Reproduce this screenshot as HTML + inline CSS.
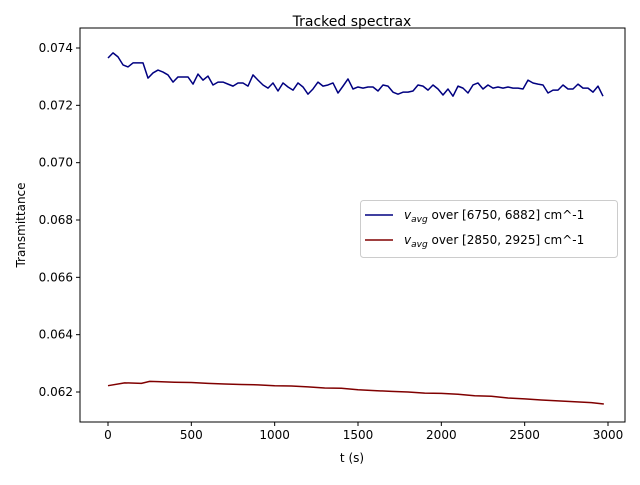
<!DOCTYPE html>
<html><head><meta charset="utf-8"><style>
body{margin:0;background:#fff;font-family:"Liberation Sans","DejaVu Sans",sans-serif}
svg text{font-family:"DejaVu Sans","Liberation Sans",sans-serif;font-size:12px;fill:#000}
</style></head><body>
<svg id="c" width="640" height="480"></svg>
<script>
const blueT=[0,30,60,90,120,150,180,210,240,270,300,330,360,390,420,450,480,510,540,570,600,630,660,690,720,750,780,810,840,870,900,930,960,990,1020,1050,1080,1110,1140,1170,1200,1230,1260,1290,1320,1350,1380,1410,1440,1470,1500,1530,1560,1590,1620,1650,1680,1710,1740,1770,1800,1830,1860,1890,1920,1950,1980,2010,2040,2070,2100,2130,2160,2190,2220,2250,2280,2310,2340,2370,2400,2430,2460,2490,2520,2550,2580,2610,2640,2670,2700,2730,2760,2790,2820,2850,2880,2910,2940,2970];
const blueV=[0.07365,0.07383,0.07369,0.07341,0.07334,0.07348,0.07348,0.07348,0.07295,0.07313,0.07323,0.07316,0.07306,0.07281,0.07299,0.07299,0.07299,0.07274,0.07309,0.07288,0.07302,0.07271,0.07281,0.07281,0.07274,0.07267,0.07278,0.07278,0.07267,0.07306,0.07288,0.07271,0.07260,0.07278,0.07250,0.07278,0.07264,0.07253,0.07278,0.07264,0.07239,0.07257,0.07281,0.07267,0.07271,0.07278,0.07243,0.07267,0.07292,0.07257,0.07264,0.07260,0.07264,0.07264,0.07250,0.07271,0.07267,0.07246,0.07239,0.07246,0.07246,0.07250,0.07271,0.07267,0.07253,0.07271,0.07257,0.07236,0.07257,0.07232,0.07267,0.07260,0.07243,0.07271,0.07278,0.07257,0.07271,0.07260,0.07264,0.07260,0.07264,0.07260,0.07260,0.07257,0.07288,0.07278,0.07274,0.07271,0.07243,0.07253,0.07253,0.07271,0.07257,0.07257,0.07274,0.07260,0.07260,0.07246,0.07267,0.07232];
const redT=[0,100,200,250,300,400,500,600,700,800,900,1000,1100,1200,1300,1400,1500,1600,1700,1800,1900,2000,2100,2200,2300,2400,2500,2600,2700,2800,2900,2975];
const redV=[0.06222,0.06232,0.06230,0.06237,0.06236,0.06234,0.06233,0.06230,0.06228,0.06226,0.06225,0.06222,0.06221,0.06218,0.06214,0.06213,0.06208,0.06205,0.06202,0.06200,0.06196,0.06195,0.06192,0.06187,0.06185,0.06179,0.06176,0.06172,0.06169,0.06166,0.06163,0.06158];
const xTicks=[0,500,1000,1500,2000,2500,3000];
const yTicks=[0.062,0.064,0.066,0.068,0.070,0.072,0.074];
const yLabels=["0.062","0.064","0.066","0.068","0.070","0.072","0.074"];
const L=80,R=625,T=28,B=422;
const xs=t=>108+t*(500/3000);
const ys=v=>392-(v-0.062)*(344/0.012);
const svg=document.getElementById('c');const NS='http://www.w3.org/2000/svg';
function mk(tag,attrs,txt){const e=document.createElementNS(NS,tag);for(const k in attrs)e.setAttribute(k,attrs[k]);if(txt!=null)e.textContent=txt;svg.appendChild(e);return e;}
let e=mk('rect',{x:L,y:T,width:R-L,height:B-T,fill:'none',stroke:'#000','stroke-width':1});


xTicks.forEach(t=>{const x=xs(t);
 let a=mk('line',{x1:x,x2:x,y1:B,y2:B+4,stroke:'#000'});
 
 
 let b=mk('text',{x:x,y:B+17,'text-anchor':'middle'},String(t));
 
 });
yTicks.forEach((v,i)=>{const y=ys(v);
 let a=mk('line',{x1:L-4,x2:L,y1:y,y2:y,stroke:'#000'});
 
 
 let b=mk('text',{x:L-7,y:y+4,'text-anchor':'end'},yLabels[i]);
 
 });
function line(T_,V,col,name){const p=mk('polyline',{points:T_.map((t,i)=>xs(t)+','+ys(V[i])).join(' '),fill:'none',stroke:col,'stroke-width':1.5,'stroke-linejoin':'round'});
 
 }
line(blueT,blueV,'#000080','series-6750-6882');
line(redT,redV,'#800000','series-2850-2925');
</script>
<svg width="640" height="480" style="position:absolute;left:0;top:0">
<text x="352" y="26" text-anchor="middle" style="font-size:14px">Tracked spectrax</text>
<text x="352" y="462" text-anchor="middle">t (s)</text>
<text x="25" y="225" text-anchor="middle" transform="rotate(-90 25 225)">Transmittance</text>
<g>
<rect x="360.5" y="200.5" width="257" height="57" rx="3" fill="#fff" fill-opacity="0.8" stroke="#ccc"/>
<line x1="365" x2="393" y1="215" y2="215" stroke="#000080" stroke-width="1.5"/>
<text x="404" y="219"><tspan font-style="italic">v</tspan><tspan font-style="italic" font-size="9" dy="3">avg</tspan><tspan dy="-3"> over [6750, 6882] cm^-1</tspan></text>
<line x1="365" x2="393" y1="240" y2="240" stroke="#800000" stroke-width="1.5"/>
<text x="404" y="244"><tspan font-style="italic">v</tspan><tspan font-style="italic" font-size="9" dy="3">avg</tspan><tspan dy="-3"> over [2850, 2925] cm^-1</tspan></text>
</g>
</svg>
</body></html>
